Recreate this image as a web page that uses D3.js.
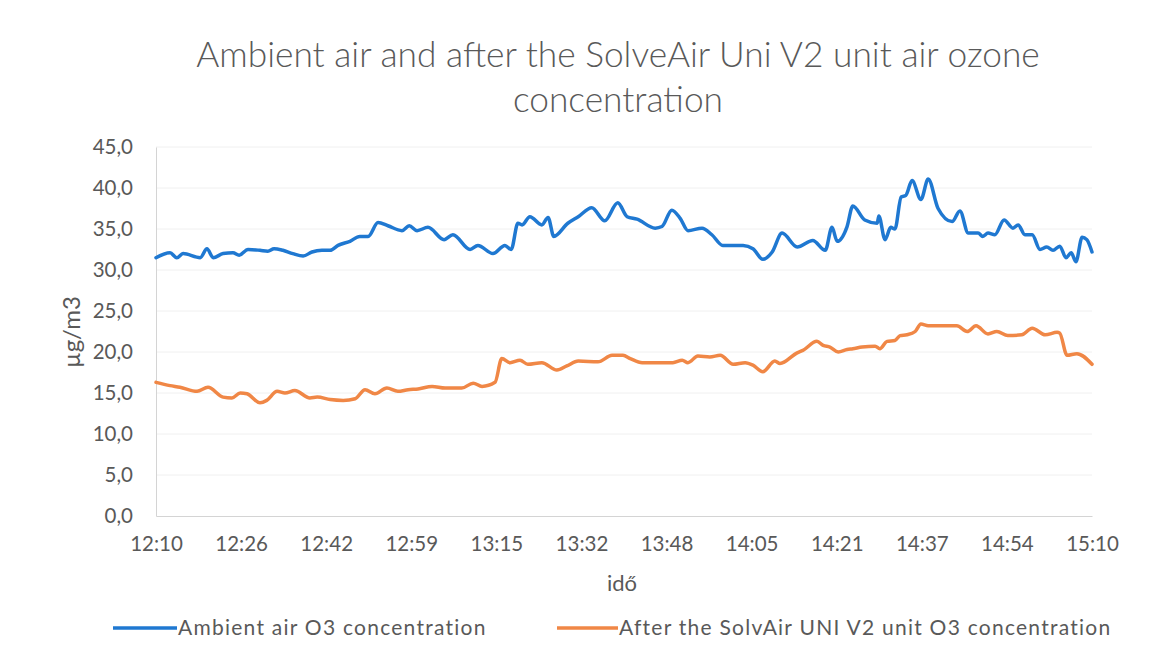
<!DOCTYPE html>
<html>
<head>
<meta charset="utf-8">
<script src="https://cdn.jsdelivr.net/npm/d3@7/dist/d3.min.js"></script>
<style>
  html, body { margin: 0; padding: 0; background: #ffffff; }
  svg { display: block; font-family: Lato, "Open Sans", sans-serif; }
</style>
</head>
<body>
<svg id="chart" width="1156" height="664"></svg>
<script>
// ---- data ----
const titleLines = ["Ambient air and after the SolveAir Uni V2 unit air ozone", "concentration"];
const yAxisTitle = "µg/m3";
const xAxisTitle = "idő";
const seriesNames = ["Ambient air O3 concentration", "After the SolvAir UNI V2 unit O3 concentration"];
const xTickLabels = ["12:10","12:26","12:42","12:59","13:15","13:32","13:48","14:05","14:21","14:37","14:54","15:10"];
const yTicks = [0, 5, 10, 15, 20, 25, 30, 35, 40, 45];

// minutes elapsed since 12:10
const ambientMinutes = [0,2.7,4.0,5.2,8.5,9.8,11.0,12.9,14.8,16.0,17.7,20.0,21.5,22.7,24.4,26.3,28.3,30.0,31.9,33.5,35.0,37.3,39.2,40.8,42.7,44.6,47.3,48.7,50.2,52.3,55.4,57.1,60.4,61.9,64.8,67.1,68.3,69.6,70.4,71.9,74.2,75.4,76.5,79.2,81.2,83.8,86.3,88.8,90.6,92.5,96.0,97.3,99.2,100.8,102.3,105.0,106.9,109.0,112.9,114.8,116.7,118.5,120.4,123.3,126.3,128.7,130.0,131.0,132.9,134.0,136.3,138.7,139.0,140.2,141.3,142.1,143.3,144.2,145.4,147.1,148.5,150.4,153.1,154.6,156.2,158.1,159.0,160.0,161.3,163.1,164.8,165.8,167.1,168.5,170.0,171.3,172.5,173.8,175.0,176.0,176.9,178.1,179.0,180];
const ambientValues = [31.5,32.1,31.5,32.0,31.5,32.6,31.5,32.0,32.1,31.8,32.5,32.4,32.3,32.6,32.4,32.0,31.7,32.2,32.4,32.4,33.0,33.5,34.1,34.1,35.8,35.4,34.8,35.4,34.8,35.2,33.7,34.3,32.5,33.0,32.0,33.0,32.5,35.7,35.5,36.5,35.5,36.4,34.1,35.7,36.5,37.6,36.0,38.2,36.5,36.2,35.1,35.3,37.3,36.3,34.8,35.1,34.3,33.0,33.0,32.6,31.3,32.2,34.5,32.8,33.6,32.4,35.2,33.5,35.3,37.8,36.1,35.7,36.6,33.7,35.2,35.0,38.9,39.1,40.9,38.6,41.1,37.5,35.9,37.2,34.5,34.5,34.1,34.5,34.3,36.1,35.1,35.5,34.3,34.3,32.5,32.8,32.4,32.9,31.5,32.1,31.0,34.0,33.7,32.2];

const filteredMinutes = [0,2.7,4.6,7.9,10.0,12.9,14.6,16.2,17.5,20.0,21.3,23.3,24.8,26.7,29.6,31.0,33.5,36.0,38.3,40.2,42.1,44.4,46.5,48.5,50.4,53.1,55.6,58.8,61.0,62.7,65.2,66.5,68.1,70.0,71.5,74.2,77.1,79.0,81.2,85.0,87.7,89.8,91.2,93.5,97.5,99.4,101.2,102.3,104.2,106.5,108.5,111.0,113.3,114.8,116.7,119.0,120.0,123.3,124.4,127.1,128.3,129.6,131.2,132.9,134.0,135.8,138.3,139.2,140.6,142.1,143.1,144.4,146.0,147.1,148.5,151.7,154.0,156.0,157.7,160.0,161.7,163.8,166.5,168.5,171.0,173.3,173.8,175.2,177.1,180];
const filteredValues = [16.3,15.9,15.7,15.2,15.7,14.5,14.4,15.0,14.9,13.8,14.1,15.2,15.0,15.3,14.4,14.5,14.2,14.1,14.3,15.4,14.9,15.6,15.2,15.4,15.5,15.8,15.6,15.6,16.2,15.8,16.3,19.2,18.7,19.0,18.5,18.7,17.8,18.3,18.9,18.8,19.6,19.6,19.2,18.7,18.7,18.7,19.0,18.7,19.5,19.4,19.6,18.5,18.7,18.4,17.6,18.9,18.6,19.9,20.2,21.3,20.8,20.6,20.0,20.3,20.4,20.6,20.7,20.4,21.3,21.4,22.0,22.1,22.5,23.4,23.2,23.2,23.2,22.5,23.2,22.2,22.5,22.0,22.1,22.9,22.1,22.4,22.3,19.6,19.8,18.5];

const seriesColors = ["#1f78d1", "#f08746"];

// ---- layout ----
const svg = d3.select("#chart");
const W = 1156, H = 664;
const margin = { left: 156, right: W - 1092, top: 147, bottom: H - 516 };
const textColor = "#595959";

svg.append("rect").attr("width", W).attr("height", H).attr("fill", "#ffffff");

const x = d3.scaleLinear().domain([0, 180]).range([margin.left, W - margin.right]);
const y = d3.scaleLinear().domain([0, 45]).range([H - margin.bottom, margin.top]);

// gridlines
svg.append("g")
  .selectAll("line")
  .data(yTicks.filter(d => d > 0))
  .join("line")
  .attr("x1", x(0)).attr("x2", x(180))
  .attr("y1", d => y(d)).attr("y2", d => y(d))
  .attr("stroke", "#f0f0f0").attr("stroke-width", 1);

// y axis
const yAxis = svg.append("g")
  .attr("transform", `translate(${x(0)},0)`)
  .call(d3.axisLeft(y).tickValues(yTicks).tickSize(0).tickPadding(23)
        .tickFormat(d => d3.format(".1f")(d).replace(".", ",")));
yAxis.select(".domain").attr("stroke", "#d4d4d4");
yAxis.selectAll("text").attr("fill", textColor).attr("font-size", 20.5)
  .attr("font-family", "Lato, sans-serif");

// x axis
const xTickValues = d3.range(xTickLabels.length).map(i => i * 180 / (xTickLabels.length - 1));
const xAxis = svg.append("g")
  .attr("transform", `translate(0,${y(0)})`)
  .call(d3.axisBottom(x).tickValues(xTickValues).tickSize(0).tickPadding(20)
        .tickFormat((d, i) => xTickLabels[i]));
xAxis.select(".domain").attr("stroke", "#d4d4d4");
xAxis.selectAll("text").attr("fill", textColor).attr("font-size", 20.5)
  .attr("font-family", "Lato, sans-serif");

// lines
const lineGen = d3.line()
  .x(d => x(d[0])).y(d => y(d[1]))
  .curve(d3.curveMonotoneX);

const series = [
  d3.zip(ambientMinutes, ambientValues),
  d3.zip(filteredMinutes, filteredValues)
];
svg.append("g").selectAll("path")
  .data(series)
  .join("path")
  .attr("d", lineGen)
  .attr("fill", "none")
  .attr("stroke", (d, i) => seriesColors[i])
  .attr("stroke-width", 3.5)
  .attr("stroke-linejoin", "round")
  .attr("stroke-linecap", "round");

// title
svg.append("text")
  .attr("text-anchor", "middle")
  .attr("fill", textColor)
  .attr("font-size", 35.3)
  .attr("font-weight", 300)
  .selectAll("tspan")
  .data(titleLines)
  .join("tspan")
  .attr("x", 618)
  .attr("y", (d, i) => 67 + i * 45)
  .text(d => d);

// axis titles
svg.append("text")
  .attr("transform", "translate(80,332) rotate(-90)")
  .attr("text-anchor", "middle")
  .attr("fill", textColor)
  .attr("font-size", 24)
  .text(yAxisTitle);

svg.append("text")
  .attr("x", 622).attr("y", 591)
  .attr("text-anchor", "middle")
  .attr("fill", textColor)
  .attr("font-size", 22)
  .text(xAxisTitle);

// legend
const legendItems = [
  { lx: 113, tx: 178 },
  { lx: 557, tx: 619 }
];
const lg = svg.append("g");
legendItems.forEach((it, i) => {
  lg.append("line")
    .attr("x1", it.lx).attr("x2", it.tx - 1)
    .attr("y1", 628).attr("y2", 628)
    .attr("stroke", seriesColors[i]).attr("stroke-width", 3.5);
  lg.append("text")
    .attr("x", it.tx).attr("y", 635)
    .attr("fill", textColor)
    .attr("font-size", 21)
    .attr("letter-spacing", 1.25)
    .text(seriesNames[i]);
});
</script>
</body>
</html>
